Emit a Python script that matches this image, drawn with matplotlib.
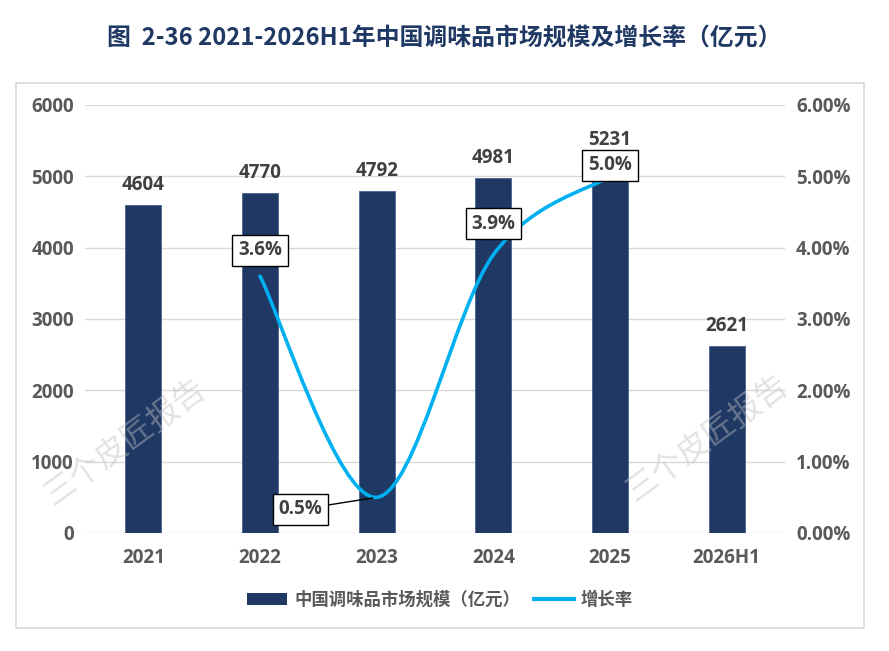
import numpy as np
import matplotlib
matplotlib.use("Agg")
import matplotlib.pyplot as plt
from matplotlib.path import Path
from matplotlib.patches import PathPatch, Rectangle, Patch
from matplotlib.lines import Line2D

plt.rcParams['font.family'] = ['Open Sans', 'Noto Sans CJK SC', 'DejaVu Sans']

# data
years = ['2021', '2022', '2023', '2024', '2025', '2026H1']
market_size = [4604, 4770, 4792, 4981, 5231, 2621]       # 亿元
growth_years = ['2022', '2023', '2024', '2025']
growth_rate = [3.6, 0.5, 3.9, 5.0]                         # %

navy = '#1F3864'
cyan = '#00B0F0'
tick_col = '#595959'
label_col = '#404040'
grid_col = '#D9D9D9'

W, H = 889, 651
fig = plt.figure(figsize=(W / 100, H / 100), dpi=100)

# outer frame of the chart area
fig.patches.append(Rectangle((16 / W, 1 - 628 / H), (864 - 16) / W, (628 - 83) / H,
                             transform=fig.transFigure, fill=False,
                             edgecolor=grid_col, lw=1.2))

fig.text(444 / W, 1 - 38 / H, '图  2-36 2021-2026H1年中国调味品市场规模及增长率（亿元）',
         ha='center', va='center', fontsize=17.2, fontweight='bold', color=navy,
         family=['Noto Sans CJK SC', 'DejaVu Sans'])

ax = fig.add_axes([85 / W, 1 - 533 / H, 700 / W, 428 / H])
x = np.arange(len(years))
ax.bar(x, market_size, width=0.31, color=navy, edgecolor='#4A6290',
       linewidth=0.6, zorder=2)
ax.set_xlim(-0.5, len(years) - 0.5)
ax.set_ylim(0, 6000)
ax.set_yticks(range(0, 6001, 1000))
ax.set_xticks(x, years)
ax.yaxis.grid(True, color=grid_col, lw=1)
ax.set_axisbelow(True)
for s in ax.spines.values():
    s.set_visible(False)
ax.tick_params(axis='y', length=0, pad=8, labelsize=13.5, labelcolor=tick_col)
ax.tick_params(axis='x', length=0, pad=11, labelsize=13.5, labelcolor=tick_col)
for t in ax.get_xticklabels() + ax.get_yticklabels():
    t.set_fontweight('bold')

for xi, v in zip(x, market_size):
    ax.annotate(str(v), (xi, v), xytext=(0, 10), textcoords='offset pixels',
                ha='center', va='bottom', fontsize=13.5, fontweight='bold',
                color=label_col)

# growth rate on the right axis
ax2 = ax.twinx()
ax2.set_ylim(0, 6)
ax2.set_yticks(range(0, 7))
ax2.set_yticklabels([f'{v:.2f}%' for v in range(0, 7)])
for s in ax2.spines.values():
    s.set_visible(False)
ax2.tick_params(axis='y', length=0, pad=8, labelsize=13.5, labelcolor=tick_col)
for t in ax2.get_yticklabels():
    t.set_fontweight('bold')

# smoothed line (cardinal spline through the data points, like Excel)
gx = [years.index(y) for y in growth_years]
P = list(zip(gx, growth_rate))
verts = [P[0]]
codes = [Path.MOVETO]
for i in range(len(P) - 1):
    p0 = P[i - 1] if i > 0 else P[i]
    p1, p2 = P[i], P[i + 1]
    p3 = P[i + 2] if i + 2 < len(P) else P[i + 1]
    c1 = (p1[0] + (p2[0] - p0[0]) / 6, p1[1] + (p2[1] - p0[1]) / 6)
    c2 = (p2[0] - (p3[0] - p1[0]) / 6, p2[1] - (p3[1] - p1[1]) / 6)
    verts += [c1, c2, p2]
    codes += [Path.CURVE4] * 3
ax2.add_patch(PathPatch(Path(verts, codes), fill=False, edgecolor=cyan,
                        lw=2.6, capstyle='round', zorder=3))

offsets = [(0, 26), (-76, -12), (0, 31), (0, 11)]
box = dict(boxstyle='square,pad=0.3', facecolor='white', edgecolor='black', lw=1)
for xi, g, off in zip(gx, growth_rate, offsets):
    arrow = None
    if off[0] != 0:
        arrow = dict(arrowstyle='-', color='black', lw=1, shrinkA=0, shrinkB=3)
    ax2.annotate(f'{g:.1f}%', (xi, g), xytext=off, textcoords='offset pixels',
                 ha='center', va='center', fontsize=13.5, fontweight='bold',
                 color=label_col, bbox=box, arrowprops=arrow, zorder=5)

# watermark
for wx, wy in [(125, 442), (707, 438)]:
    fig.text(wx / W, 1 - wy / H, '三个皮匠报告', ha='center', va='center',
             rotation=36, fontsize=23, color='#C0C0C0', alpha=0.45,
             family=['Noto Sans CJK SC'], rotation_mode='anchor')

handles = [Patch(facecolor=navy, label='中国调味品市场规模（亿元）'),
           Line2D([], [], color=cyan, lw=3, label='增长率')]
fig.legend(handles=handles, loc='center', bbox_to_anchor=(440 / W, 1 - 600 / H),
           ncol=2, frameon=False, prop=dict(size=12.5, weight='bold'),
           handlelength=2.3, columnspacing=0.8, handletextpad=0.4,
           labelcolor=tick_col)

fig.savefig('out.png', dpi=100)
